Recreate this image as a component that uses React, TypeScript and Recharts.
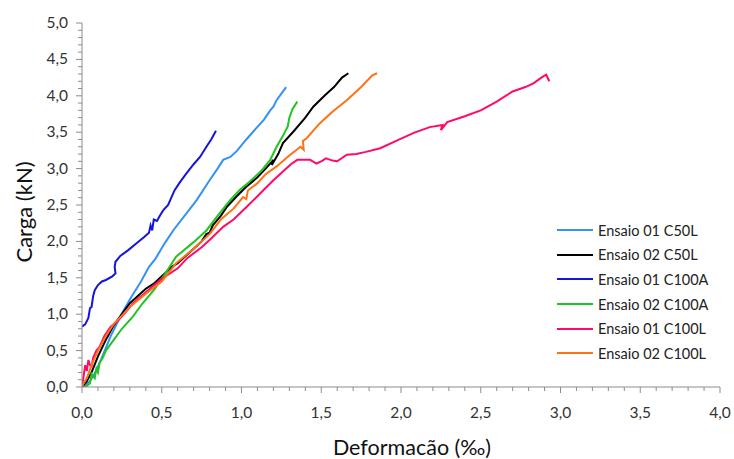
import { LineChart, Line, XAxis, YAxis } from "recharts";

const xMajor = [0, 0.5, 1, 1.5, 2, 2.5, 3, 3.5, 4];
const yMajor = [0, 0.5, 1, 1.5, 2, 2.5, 3, 3.5, 4, 4.5, 5];

const c50L01 = [
  [0, 0], [0.02, 0.03], [0.05, 0.08], [0.08, 0.19], [0.12, 0.38], [0.18, 0.7],
  [0.25, 1.01], [0.31, 1.24], [0.37, 1.45], [0.42, 1.65], [0.46, 1.76], [0.52, 1.98],
  [0.575, 2.16], [0.65, 2.37], [0.72, 2.57], [0.8, 2.84], [0.85, 3.0], [0.885, 3.12],
  [0.93, 3.16], [0.97, 3.24], [1.03, 3.4], [1.09, 3.55], [1.14, 3.67], [1.18, 3.8],
  [1.2, 3.85], [1.22, 3.94], [1.25, 4.03], [1.28, 4.12],
];

const c50L02 = [
  [0, 0], [0.03, 0.08], [0.06, 0.2], [0.1, 0.42], [0.15, 0.65], [0.2, 0.85],
  [0.25, 1.0], [0.3, 1.15], [0.35, 1.25], [0.4, 1.35], [0.45, 1.42], [0.5, 1.52],
  [0.57, 1.66], [0.6, 1.7], [0.65, 1.8], [0.7, 1.9], [0.75, 2.0], [0.78, 2.1],
  [0.8, 2.12], [0.82, 2.22], [0.87, 2.35], [0.91, 2.48], [0.97, 2.62], [1.03, 2.75],
  [1.1, 2.88], [1.16, 3.02], [1.2, 3.12], [1.19, 3.05], [1.23, 3.2], [1.26, 3.35],
  [1.33, 3.52], [1.4, 3.7], [1.45, 3.85], [1.52, 4.0], [1.58, 4.12], [1.63, 4.25],
  [1.67, 4.31],
];

const c100A01 = [
  [0, 0.83], [0.02, 0.86], [0.04, 0.95], [0.05, 1.08], [0.06, 1.1], [0.07, 1.25],
  [0.08, 1.33], [0.1, 1.4], [0.125, 1.45], [0.15, 1.47], [0.19, 1.52], [0.21, 1.56],
  [0.205, 1.65], [0.21, 1.72], [0.24, 1.8], [0.29, 1.88], [0.34, 1.97], [0.39, 2.06],
  [0.42, 2.12], [0.43, 2.22], [0.44, 2.15], [0.45, 2.3], [0.47, 2.28], [0.49, 2.36],
  [0.51, 2.43], [0.54, 2.5], [0.56, 2.6], [0.58, 2.7], [0.61, 2.8], [0.65, 2.92],
  [0.7, 3.06], [0.74, 3.16], [0.78, 3.3], [0.81, 3.4], [0.84, 3.52],
];

const c100A02 = [
  [0.02, 0], [0.05, 0.05], [0.06, 0.18], [0.08, 0.12], [0.09, 0.25], [0.1, 0.2],
  [0.11, 0.33], [0.13, 0.4], [0.15, 0.5], [0.2, 0.65], [0.25, 0.8], [0.32, 0.97],
  [0.38, 1.15], [0.45, 1.33], [0.52, 1.55], [0.59, 1.79], [0.7, 1.99], [0.78, 2.15],
  [0.85, 2.35], [0.93, 2.57], [0.99, 2.71], [1.05, 2.82], [1.12, 2.96], [1.18, 3.12],
  [1.22, 3.3], [1.26, 3.45], [1.29, 3.58], [1.3, 3.7], [1.32, 3.82], [1.35, 3.92],
];

const c100L01 = [
  [0, 0], [0.01, 0.15], [0.02, 0.3], [0.03, 0.22], [0.04, 0.37], [0.05, 0.3],
  [0.06, 0.28], [0.07, 0.4], [0.09, 0.5], [0.11, 0.55], [0.14, 0.7], [0.18, 0.83],
  [0.22, 0.9], [0.27, 1.02], [0.32, 1.15], [0.4, 1.3], [0.49, 1.47], [0.6, 1.63],
  [0.66, 1.77], [0.75, 1.92], [0.8, 2.02], [0.885, 2.2], [0.95, 2.3], [1.03, 2.47],
  [1.1, 2.62], [1.14, 2.71], [1.2, 2.84], [1.27, 2.98], [1.31, 3.06], [1.35, 3.12],
  [1.43, 3.12], [1.47, 3.07], [1.5, 3.1], [1.53, 3.14], [1.57, 3.11], [1.6, 3.1],
  [1.66, 3.19], [1.72, 3.2], [1.78, 3.23], [1.87, 3.28], [1.98, 3.39], [2.08, 3.49],
  [2.18, 3.57], [2.26, 3.6], [2.25, 3.53], [2.29, 3.64], [2.4, 3.72], [2.5, 3.8],
  [2.6, 3.92], [2.7, 4.06], [2.78, 4.12], [2.83, 4.17], [2.88, 4.25], [2.91, 4.29],
  [2.93, 4.2],
];

const c100L02 = [
  [0, 0], [0.01, 0.05], [0.03, 0.12], [0.06, 0.3], [0.1, 0.5], [0.15, 0.7],
  [0.2, 0.87], [0.25, 0.98], [0.3, 1.1], [0.4, 1.28], [0.5, 1.45], [0.59, 1.7],
  [0.7, 1.9], [0.8, 2.1], [0.87, 2.3], [0.95, 2.45], [1.01, 2.61], [1.03, 2.58],
  [1.04, 2.7], [1.1, 2.8], [1.15, 2.92], [1.22, 3.03], [1.3, 3.18], [1.37, 3.3],
  [1.39, 3.26], [1.385, 3.38], [1.41, 3.42], [1.49, 3.62], [1.57, 3.78], [1.66, 3.94],
  [1.75, 4.12], [1.82, 4.28], [1.85, 4.31],
];

const series = [
  { name: "Ensaio 01 C50L", color: "#3392F5", pts: c50L01 },
  { name: "Ensaio 02 C50L", color: "#000000", pts: c50L02 },
  { name: "Ensaio 01 C100A", color: "#1414DC", pts: c100A01 },
  { name: "Ensaio 02 C100A", color: "#22C322", pts: c100A02 },
  { name: "Ensaio 01 C100L", color: "#FF0A6A", pts: c100L01 },
  { name: "Ensaio 02 C100L", color: "#FF7214", pts: c100L02 },
];

const font = "Lato, 'Open Sans', sans-serif";
const axisColor = "#8c8c8c";

// every 0.1 gets a tick, labels only on the 0.5 steps
const minorTicks = (max: number) =>
  Array.from({ length: Math.round(max * 10) + 1 }, (_, i) => i / 10);
const isMajor = (v: number) => Math.abs(v * 2 - Math.round(v * 2)) < 1e-6;
const fmt = (v: number) => v.toFixed(1).replace(".", ",");

const XTick = (props: any) => {
  const { x, y, payload } = props;
  const major = isMajor(payload.value);
  return (
    <g>
      <line x1={x} x2={x} y1={y} y2={y + (major ? 6 : 4)} stroke={axisColor} />
      {major && xMajor.includes(payload.value) && (
        <text x={x} y={y + 31} textAnchor="middle" fontSize={15.5} fill="#333" fontFamily={font}>
          {fmt(payload.value)}
        </text>
      )}
    </g>
  );
};

const YTick = (props: any) => {
  const { x, y, payload } = props;
  const major = isMajor(payload.value);
  return (
    <g>
      <line x1={x - (major ? 6 : 4)} x2={x} y1={y} y2={y} stroke={axisColor} />
      {major && yMajor.includes(payload.value) && (
        <text x={x - 14} y={y + 5} textAnchor="end" fontSize={15.5} fill="#333" fontFamily={font}>
          {fmt(payload.value)}
        </text>
      )}
    </g>
  );
};

const LegendBox = () => (
  <div
    style={{
      position: "absolute",
      left: 557,
      top: 218,
      width: 170,
      fontFamily: font,
      fontSize: 14.5,
      color: "#222",
    }}
  >
    {series.map((s) => (
      <div key={s.name} style={{ display: "flex", alignItems: "center", height: 24.6 }}>
        <svg width={36} height={4} style={{ marginRight: 5 }}>
          <line x1={0} x2={36} y1={2} y2={2} stroke={s.color} strokeWidth={2} />
        </svg>
        <span>{s.name}</span>
      </div>
    ))}
  </div>
);

export default function App() {
  return (
    <div style={{ position: "absolute", left: 0, top: 0, width: 734, height: 459, background: "#fff" }}>
      <LineChart width={734} height={459} margin={{ top: 23, right: 14, bottom: 22, left: 0 }}>
        <XAxis
          type="number"
          dataKey="x"
          domain={[0, 4]}
          ticks={minorTicks(4)}
          interval={0}
          tickSize={0}
          tickMargin={0}
          tickLine={false}
          stroke={axisColor}
          height={50}
          tick={<XTick />}
          allowDataOverflow
        />
        <YAxis
          type="number"
          dataKey="y"
          domain={[0, 5]}
          ticks={minorTicks(5)}
          interval={0}
          tickSize={0}
          tickMargin={0}
          tickLine={false}
          stroke={axisColor}
          width={82}
          tick={<YTick />}
          allowDataOverflow
        />
        {series.map((s) => (
          <Line
            key={s.name}
            name={s.name}
            data={s.pts.map(([x, y]) => ({ x, y }))}
            dataKey="y"
            type="linear"
            stroke={s.color}
            strokeWidth={2}
            dot={false}
            activeDot={false}
            isAnimationActive={false}
          />
        ))}
        <text
          x={23}
          y={212}
          transform="rotate(-90 23 212)"
          textAnchor="middle"
          dominantBaseline="central"
          fontSize={22}
          fill="#111"
          fontFamily={font}
        >
          Carga (kN)
        </text>
        <text x={412} y={447} textAnchor="middle" dominantBaseline="central" fontSize={21.5} fill="#111" fontFamily={font}>
          Deformacão (‰)
        </text>
      </LineChart>
      <LegendBox />
    </div>
  );
}
